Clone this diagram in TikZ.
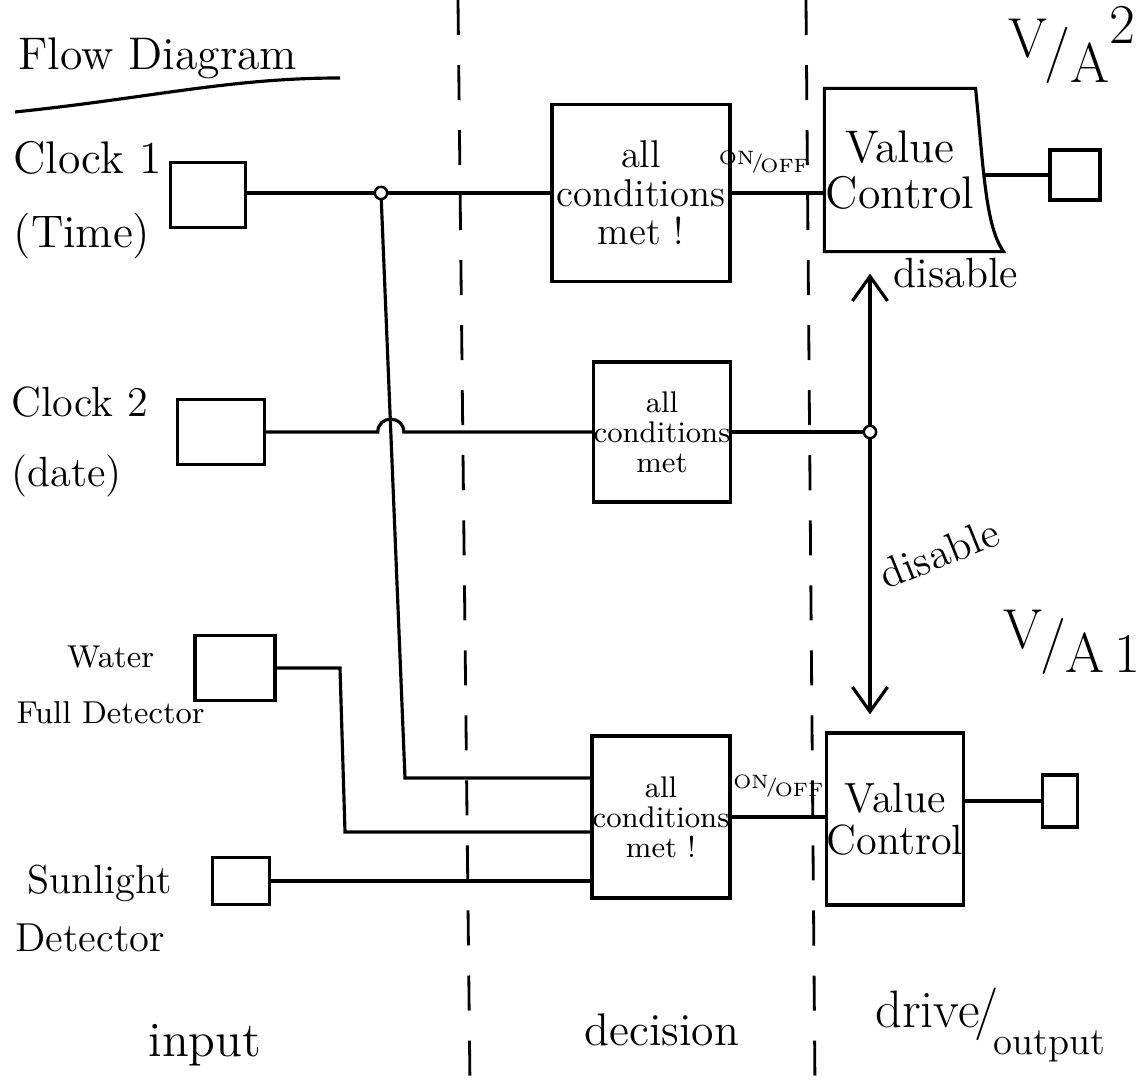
\documentclass[tikz,border=0pt]{standalone}
\usepackage{tikz}
\usetikzlibrary{calc, positioning, arrows.meta}
\newcommand{\fs}[1]{\fontsize{#1}{#1pt}\selectfont}
\tikzset{every node/.append style={font=\fs{12}}}
\tikzset{
  zone/.style={line width=0.8pt, dash pattern=on 0.35cm off 0.3cm},
  srcbox/.style={draw, minimum width=#1, minimum height=0.65cm, inner sep=0pt},
  condbox/.style={draw, align=center, inner sep=0pt},
  ctrlbox/.style={draw, align=center, inner sep=0pt},
  outbox/.style={draw, inner sep=0pt},
  srclabel/.style={align=left, anchor=west, inner sep=0pt},
  onoff/.style={midway, above=4pt, font=\fs{5.5}, inner sep=1pt},
  dot/.style={circle, draw, inner sep=0pt, minimum size=3.5pt, line width=0.7pt}
}

\begin{document}
\begin{tikzpicture}[x=0.01cm, y=-0.01cm, line width=0.9pt, >={Straight Barb[length=7pt, width=10pt]}]
    \useasboundingbox (0,0) rectangle (1138,1086);
    % zone separators
    \draw[zone] (458,0) -- (470,1086);
    \draw[zone] (806,0) -- (815,1086);
    % title
    \node[font=\fs{13}] (title) at (158,58) {Flow Diagram};
    \draw (15,112) .. controls (150,98) and (230,78) .. (340,78);
    % inputs
    \node[srclabel, font=\fs{13}] (clkAtxt) at (12,200) {Clock 1\\[8pt](Time)};
    \node[srcbox=0.75cm] (clkA) at (208,195) {};
    \node[srclabel, font=\fs{12}] (clkBtxt) at (10,442) {Clock 2\\[8pt](date)};
    \node[srcbox=0.87cm] (clkB) at (221,432) {};
    \node[srclabel, font=\fs{9}] (watertxt) at (15,685) {\hspace*{1.6em}Water\\[7pt]Full Detector};
    \node[srcbox=0.8cm] (water) at (235,668) {};
    \node[srclabel, font=\fs{11.5}] (suntxt) at (14,908) {\hspace*{0.3em}Sunlight\\[5pt]Detector};
    \node[outbox, minimum width=0.57cm, minimum height=0.47cm] (sun) at (241,881) {};
    % decision
    \node[condbox, minimum width=1.78cm, minimum height=1.77cm, font=\fs{11}] (condA) at (641,193) {all\\conditions\\met !};
    \node[condbox, minimum width=1.3cm, minimum height=1.4cm, font=\fs{8.5}] (condB) at (662,432) {all\\conditions\\met};
    \node[condbox, minimum width=1.38cm, minimum height=1.62cm, font=\fs{8.5}] (condC) at (661,817) {all\\conditions\\met !};
    % drive / output
    \node[align=center, inner sep=0pt, minimum width=1.46cm, minimum height=1.6cm, font=\fs{13}] (ctrlA) at (900,170) {Value\\Control};
    \draw (ctrlA.north west) -- (ctrlA.north east) .. controls ($(ctrlA.east)+(8,0)$) and ($(ctrlA.south east)+(10,-25)$) .. ($(ctrlA.south east)+(28,0)$) -- (ctrlA.south west) -- cycle;
    \node[outbox, minimum width=0.5cm, minimum height=0.5cm] (outA) at (1075,175) {};
    \node[ctrlbox, minimum width=1.34cm, minimum height=1.72cm, font=\fs{12}] (ctrlB) at (895,819) {Value\\Control};
    \node[outbox, minimum width=0.35cm, minimum height=0.52cm] (outB) at (1060,801) {};
    \node[font=\fs{16}] (vaA) at (1072,45) {\raisebox{.5ex}{V}\kern-.05em/\raisebox{-.5ex}{A}\raisebox{1.1ex}{2}};
    \node[font=\fs{16}] (vaB) at (1072,642) {\raisebox{.5ex}{V}\kern-.05em/\raisebox{-.5ex}{A\,1}};
    % junctions
    \coordinate (jA) at (381,193);
    \coordinate (jAb) at (405,778);
    \coordinate (hop) at ($(jA)!0.4085!(jAb)$);
    \coordinate (jB) at (870,432);
    \coordinate (wA) at (340,668);
    \coordinate (wB) at (345,832);
    % connectors
    \draw (clkA.east |- jA) -- (jA) -- (jA -| condA.west);
    \draw (jA) -- (jAb) -- (jAb -| condC.west);
    \draw (clkB.east) -- ($(hop)+(-13,0)$) .. controls +(0,-17) and +(0,-17) .. ($(hop)+(13,0)$) -- (condB.west);
    \draw (condB.east) -- (jB);
    \draw (water.east) -- (wA) -- (wB) -- (wB -| condC.west);
    \draw (sun.east) -- (sun.east -| condC.west);
    \draw (condA.east) -- (condA.east -| ctrlA.west) node[onoff, xshift=-4pt] {\raisebox{.5ex}{ON}\kern-.15em/\kern-.15em\raisebox{-.4ex}{OFF}};
    \draw (condC.east) -- (condC.east -| ctrlB.west) node[onoff] {\raisebox{.5ex}{ON}\kern-.15em/\kern-.15em\raisebox{-.4ex}{OFF}};
    \draw ($(outA.west -| ctrlA.east)+(7,0)$) -- (outA.west);
    \draw (outB.west -| ctrlB.east) -- (outB.west);
    \draw[->, shorten >=0.22cm] (jB) -- (jB |- ctrlA.south) node[pos=0.88, right=3pt, font=\fs{12}] {disable};
    \draw[->, shorten >=0.17cm] (jB) -- (jB |- ctrlB.north) node[pos=0.6, font=\fs{12}, rotate=22, anchor=south west, xshift=3pt] {disable};
    \node[dot, fill=white] at (jA) {};
    \node[dot, fill=white] at (jB) {};
    % zone names
    \node[font=\fs{14}] (zin) at (205,1045) {input};
    \node[font=\fs{13}] (zdec) at (662,1030) {decision};
    \node[font=\fs{15}] (zout) at (990,1025) {drive\kern-.1em/\kern-.1em\raisebox{-1.2ex}{\fs{11}output}};
\end{tikzpicture}
\end{document}
